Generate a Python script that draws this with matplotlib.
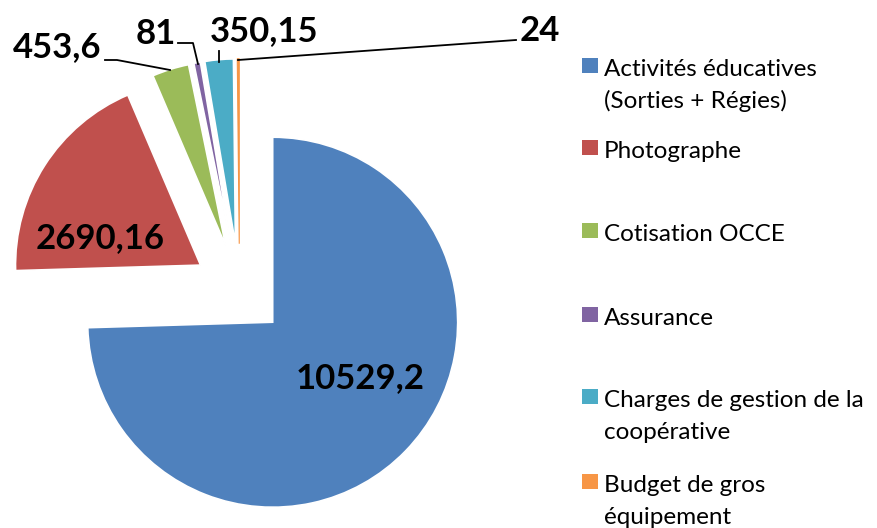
import matplotlib
matplotlib.use("Agg")
import matplotlib.pyplot as plt
from matplotlib.patches import Rectangle

categories = ["Activités éducatives\n(Sorties + Régies)", "Photographe", "Cotisation OCCE",
              "Assurance", "Charges de gestion de la\ncoopérative", "Budget de gros\néquipement"]
values = [10529.2, 2690.16, 453.6, 81, 350.15, 24]
value_labels = ["10529,2", "2690,16", "453,6", "81", "350,15", "24"]
colors = ["#4F81BD", "#C0504D", "#9BBB59", "#8064A2", "#4BACC6", "#F79646"]

plt.rcParams['font.family'] = ['Lato', 'DejaVu Sans']

W, H = 877, 528
fig = plt.figure(figsize=(W / 100, H / 100), dpi=100)
ax = fig.add_axes([0, 0, 1, 1])

cx, cy, R = 239.5, 290, 185
explode = [0.25 * R] * len(values)  # matplotlib explode is in data units
# y axis is inverted (pixel coords), so counterclock=True in data appears clockwise on screen
wedges, _ = ax.pie(values, colors=colors, startangle=-90, counterclock=True,
                   explode=explode, center=(cx, cy), radius=R,
                   wedgeprops=dict(linewidth=1.2, edgecolor='white'), frame=True)
# the tiniest slice keeps its own colour as edge so it stays visible
wedges[-1].set_edgecolor(colors[-1])
wedges[-1].set_linewidth(0.8)
ax.set_xlim(0, W)
ax.set_ylim(H, 0)
ax.set_aspect('equal')
ax.axis('off')

fs_big = 25
label_pos = [(360, 378), (100, 238), (57, 47), (156, 34), (264, 31), (540, 31)]
for (x, y), t in zip(label_pos, value_labels):
    ax.text(x, y, t, fontsize=fs_big, fontweight='bold', ha='center', va='center', color='black')

leaders = [
    None, None,
    [(105, 60), (117, 60), (170, 70)],
    [(178, 43), (193, 43), (198, 64)],
    [(219, 51), (219, 62)],
    [(238, 60), (516, 40)],
]
for pts in leaders:
    if pts:
        xs, ys = zip(*pts)
        ax.plot(xs, ys, color='black', lw=1.3)

legend_y = [70, 152, 235, 319, 401, 486]
for y, lab, c in zip(legend_y, categories, colors):
    ax.add_patch(Rectangle((582, y - 12), 16, 15, color=c, lw=0))
    ax.text(604, y + 6, lab.split("\n")[0], fontsize=17.5, ha='left', va='baseline')
    if "\n" in lab:
        ax.text(604, y + 38, lab.split("\n")[1], fontsize=17.5, ha='left', va='baseline')

fig.savefig("out.png", dpi=100)
